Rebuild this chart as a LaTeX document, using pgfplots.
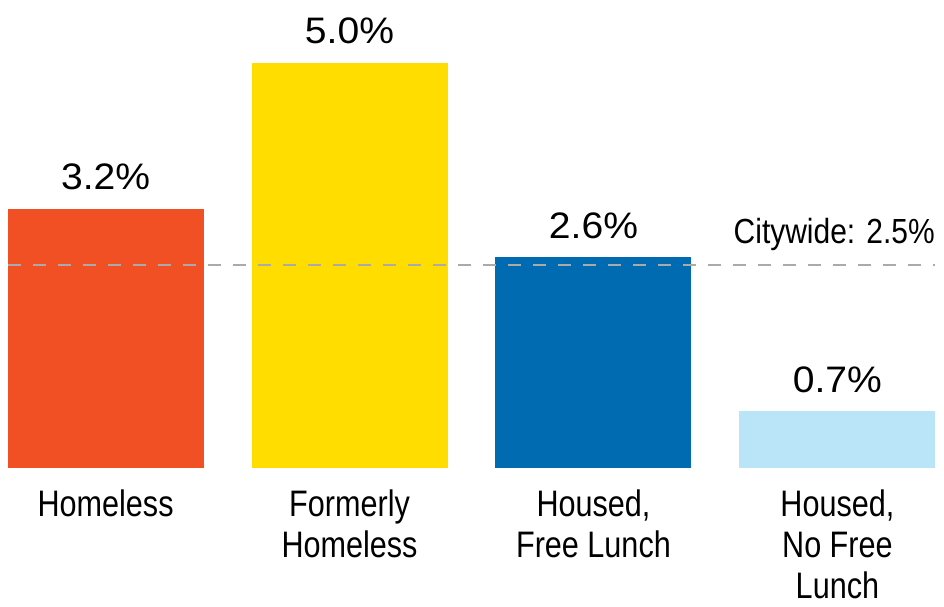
\documentclass[border=0pt]{standalone}
\usepackage{fontspec}
\usepackage{pgfplots}
\pgfplotsset{compat=1.18}
\setmainfont{Liberation Sans}
\newfontfamily\valfont[FakeStretch=1.06]{Liberation Sans}
\newfontfamily\catfont[FakeStretch=0.83]{Liberation Sans}
\newfontfamily\cityfont[FakeStretch=0.86]{Liberation Sans}

\definecolor{cOrange}{RGB}{241,80,36}
\definecolor{cYellow}{RGB}{255,221,0}
\definecolor{cBlue}{RGB}{0,107,177}
\definecolor{cLight}{RGB}{186,228,248}
\definecolor{cDash}{RGB}{170,170,170}

\begin{document}
\begin{tikzpicture}
\useasboundingbox (0,0) rectangle (944bp,607bp);
\begin{axis}[
    at={(8bp,139bp)}, anchor=south west,
    scale only axis,
    width=927bp, height=405bp,
    xmin=-0.4, xmax=3.4,
    ymin=0, ymax=5,
    ybar, bar width=196bp, bar shift=0pt,
    clip=false,
    axis line style={draw=none},
    major tick length=0pt,
    ytick=\empty,
    xtick={0,1,2,3},
    xticklabels={Homeless, {Formerly\\Homeless}, {Housed,\\Free Lunch}, {Housed,\\No Free\\Lunch}},
    xticklabel style={align=center, anchor=north, inner sep=0pt, yshift=-22bp,
        font=\catfont\fontsize{37}{41}\selectfont},
    nodes near coords={\pgfmathprintnumber[fixed,fixed zerofill,precision=1,assume math mode=true]{\pgfplotspointmeta}\%},
    every node near coord/.append style={font=\valfont\fontsize{37}{40}\selectfont, black,
        anchor=base, inner sep=0pt, yshift=19bp},
]
\addplot[fill=cOrange, draw=none] coordinates {(0,3.2)};
\addplot[fill=cYellow, draw=none] coordinates {(1,5.0)};
\addplot[fill=cBlue, draw=none] coordinates {(2,2.6)};
\addplot[fill=cLight, draw=none] coordinates {(3,0.7)};
\addplot[sharp plot, cDash, line width=2bp, dash pattern=on 13bp off 12bp, nodes near coords={}, forget plot]
    coordinates {(-0.4,2.5) (3.4,2.5)};
\node[anchor=base east, inner sep=0pt, yshift=22bp, font=\cityfont\fontsize{35}{40}\selectfont]
    at (axis cs:3.4,2.5) {Citywide: 2.5\%};
\end{axis}
\end{tikzpicture}
\end{document}
